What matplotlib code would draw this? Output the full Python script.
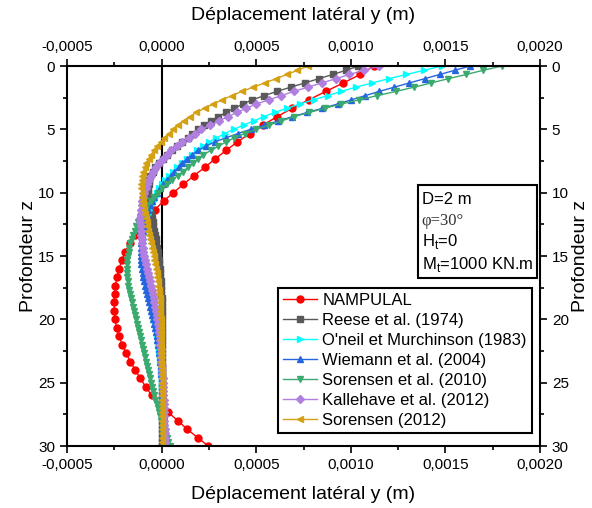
import matplotlib.pyplot as plt
import numpy as np
from matplotlib.ticker import FuncFormatter, MultipleLocator
from matplotlib.patches import Rectangle

plt.rcParams['font.family'] = ['Liberation Sans', 'DejaVu Sans']
plt.rcParams['mathtext.fontset'] = 'custom'
plt.rcParams['mathtext.rm'] = 'Liberation Sans'

# depth grids (m)
z_fine = np.arange(91) / 3.0
z_nampulal = np.arange(46) * 2.0 / 3.0

# lateral displacement, in 1e-6 m
nampulal = [1120, 1050, 960, 868, 778, 690, 610, 535, 465, 400, 340, 283, 228, 170, 115, 62,
            10, -35, -75, -110, -140, -168, -192, -210, -225, -236, -244, -249, -251, -250, -246, -238,
            -225, -208, -188, -165, -140, -112, -84, -52, -10, 35, 85, 135, 190, 247]

reese = [1040, 975, 905, 830, 757, 683, 610, 543, 480, 430, 383, 340, 300, 260, 223,
         190, 163, 137, 110, 83, 57, 30, 7, -15, -35, -48, -60, -65, -68, -70,
         -70, -69, -67, -64, -60, -56, -52, -48, -44, -40, -36, -32, -28, -25, -21,
         -18, -15, -13, -10, -8, -6, -4, -3, -2, -1, 0, 0, 1, 1, 1,
         1, 1, 1, 1, 1, 1, 1, 1, 1, 1, 1, 1, 1, 1, 1,
         1, 1, 1, 1, 1, 1, 1, 1, 1, 1, 1, 1, 1, 1, 1, 1]

oneil = [1480, 1387, 1293, 1200, 1113, 1027, 950, 877, 803, 730, 663, 597, 540, 487, 433,
         380, 333, 290, 250, 217, 187, 160, 133, 107, 80, 60, 40, 20, 3, -12,
         -25, -37, -48, -58, -66, -74, -80, -85, -90, -94, -97, -99, -100, -101, -101,
         -100, -98, -96, -93, -90, -86, -82, -77, -73, -68, -63, -58, -53, -48, -44,
         -39, -35, -31, -27, -24, -20, -17, -14, -12, -9, -7, -5, -3, -1, 1,
         2, 3, 5, 6, 7, 9, 10, 11, 12, 13, 14, 14, 15, 16, 16, 17]

wiemann = [1630, 1550, 1470, 1390, 1310, 1230, 1150, 1077, 1003, 930, 850, 770, 690, 617, 543,
           470, 403, 340, 280, 233, 193, 160, 133, 107, 90, 68, 47, 27, 9, -8,
           -25, -38, -51, -62, -70, -78, -84, -89, -94, -98, -102, -105, -108, -109, -110,
           -110, -109, -107, -104, -101, -97, -93, -88, -83, -78, -72, -66, -60, -55, -49,
           -44, -39, -35, -30, -26, -22, -19, -16, -12, -10, -7, -5, -3, -2, 0,
           1, 2, 4, 5, 6, 8, 9, 10, 12, 13, 14, 15, 16, 17, 18, 19]

sorensen2010 = [1800, 1700, 1610, 1515, 1425, 1335, 1240, 1140, 1045, 950, 863, 780, 700, 633, 567,
                500, 440, 383, 340, 300, 260, 220, 193, 167, 140, 113, 85, 55, 28, 2,
                -20, -40, -58, -75, -90, -104, -115, -125, -135, -143, -151, -158, -165, -170, -175,
                -179, -182, -184, -185, -185, -183, -180, -177, -172, -168, -163, -157, -152, -147, -141,
                -136, -131, -125, -120, -114, -108, -102, -97, -91, -86, -81, -75, -70, -65, -59,
                -54, -49, -43, -38, -33, -27, -20, -14, -8, -2, 5, 11, 18, 26, 34, 44]

kallehave = [1150, 1070, 993, 920, 847, 773, 700, 633, 567, 500, 447, 397, 350, 303, 257,
             210, 177, 143, 110, 80, 52, 28, 6, -14, -30, -44, -56, -65, -75, -85,
             -92, -97, -102, -106, -109, -111, -112, -112, -111, -110, -108, -105, -103, -100, -96,
             -92, -87, -83, -78, -73, -67, -62, -57, -52, -47, -42, -38, -33, -29, -25,
             -22, -18, -15, -13, -11, -9, -7, -5, -3, -2, -1, 1, 2, 3, 5,
             6, 7, 8, 9, 10, 11, 12, 13, 14, 15, 15, 16, 17, 17, 18, 19]

sorensen2012 = [775, 718, 662, 605, 545, 485, 425, 372, 320, 272, 227, 183, 148, 116, 84,
                60, 37, 15, -5, -23, -40, -55, -68, -80, -89, -96, -102, -106, -108, -108,
                -106, -103, -100, -97, -93, -89, -84, -79, -75, -70, -65, -61, -56, -51, -47,
                -42, -38, -34, -30, -27, -23, -20, -17, -15, -13, -11, -9, -8, -7, -6,
                -5, -4, -4, -3, -3, -2, -2, -2, -1, -1, -1, -1, 0, 0, 0,
                0, 0, 0, 0, 0, 0, 0, 0, 0, 0, 0, 0, 0, 0, 0, 0]

series = [
    (nampulal, z_nampulal, 'o', '#FF0000', 5, 'NAMPULAL'),
    (reese, z_fine, 's', '#595959', 4, 'Reese et al. (1974)'),
    (oneil, z_fine, '>', '#00FFFF', 5, "O'neil et Murchinson (1983)"),
    (wiemann, z_fine, '^', '#2566DE', 5, 'Wiemann et al. (2004)'),
    (sorensen2010, z_fine, 'v', '#3BAA6E', 5, 'Sorensen et al. (2010)'),
    (kallehave, z_fine, 'D', '#B07FE0', 4, 'Kallehave et al. (2012)'),
    (sorensen2012, z_fine, '<', '#D4A014', 5, 'Sorensen (2012)'),
]

fig = plt.figure(figsize=(5.92, 5.08), dpi=100)
ax = fig.add_axes([0.1132, 0.122, 0.7990, 0.748])

ax.axvline(0, color='k', lw=1.5, zorder=1)

for vals, zz, mk, col, ms, lab in series:
    ax.plot(np.array(vals) * 1e-6, zz, '-', marker=mk, color=col, ms=ms, lw=1, label=lab)

ax.set_xlim(-0.0005, 0.0020)
ax.set_ylim(30, 0)
ax.xaxis.set_major_locator(MultipleLocator(0.0005))
ax.xaxis.set_minor_locator(MultipleLocator(0.00025))
ax.yaxis.set_major_locator(MultipleLocator(5))
ax.yaxis.set_minor_locator(MultipleLocator(2.5))


def comma(v, pos):
    if abs(v) < 1e-9:
        v = 0.0
    return f"{v:.4f}".replace('.', ',')


ax.xaxis.set_major_formatter(FuncFormatter(comma))
ax.tick_params(which='both', direction='out', top=True, right=True,
               labeltop=True, labelright=True, labelsize=11, width=1.2)
ax.tick_params(which='major', length=5)
ax.tick_params(which='minor', length=3)
for s in ax.spines.values():
    s.set_linewidth(1.5)

ax.set_xlabel('Déplacement latéral y (m)', fontsize=14, labelpad=10)
ax.set_ylabel('Profondeur z', fontsize=14, labelpad=1)
sec = ax.secondary_xaxis('top')
sec.set_xticks([])
sec.spines['top'].set_visible(False)
sec.set_xlabel('Déplacement latéral y (m)', fontsize=14, labelpad=33)
sec2 = ax.secondary_yaxis('right')
sec2.set_yticks([])
sec2.spines['right'].set_visible(False)
sec2.set_ylabel('Profondeur z', fontsize=14, labelpad=23)

# parameter box
ax.add_patch(Rectangle((0.742, 0.442), 0.252, 0.245, transform=ax.transAxes,
                       fill=False, ec='k', lw=1.5, zorder=5))
ax.text(0.750, 0.648, 'D=2 m', transform=ax.transAxes, fontsize=12, va='center')
ax.text(0.750, 0.593, 'φ=30°', transform=ax.transAxes, fontsize=12, va='center',
        family=['Liberation Serif'], color='#333333')
ax.text(0.750, 0.538, r'H$_\mathregular{t}$=0', transform=ax.transAxes, fontsize=12, va='center')
ax.text(0.750, 0.478, r'M$_\mathregular{t}$=1000 KN.m', transform=ax.transAxes, fontsize=12, va='center')

leg = ax.legend(loc='lower right', bbox_to_anchor=(0.983, 0.034), fontsize=12,
                fancybox=False, framealpha=1, edgecolor='k', handlelength=2.0,
                labelspacing=0.3, borderpad=0.3, handletextpad=0.35, borderaxespad=0)
leg.get_frame().set_linewidth(1.5)

fig.savefig('out.png', dpi=100)
